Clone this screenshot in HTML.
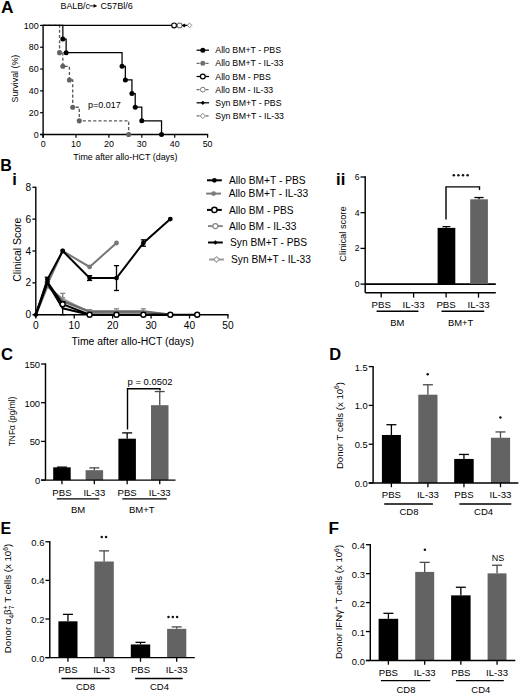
<!DOCTYPE html>
<html><head><meta charset="utf-8"><style>
html,body{margin:0;padding:0;background:#fff;overflow:hidden;width:520px;height:694px;}
svg{display:block;font-family:"Liberation Sans", sans-serif;}
</style></head><body>
<svg width="520" height="694" viewBox="0 0 520 694">
<rect width="520" height="694" fill="#fff"/>
<text transform="translate(1.10,13.40) scale(1.0,1)" font-size="17.3" font-weight="bold" fill="#000">A</text>
<text x="60.60" y="8.95" font-size="8.8" text-anchor="start" font-weight="normal" fill="#000">BALB/c</text>
<line x1="89.60" y1="5.90" x2="94.50" y2="5.90" stroke="#000" stroke-width="0.9" stroke-linecap="butt"/>
<polygon points="93.6,4.1 97.3,5.9 93.6,7.7" fill="#000"/>
<text x="100.50" y="9.06" font-size="9.1" text-anchor="start" font-weight="normal" fill="#000">C57Bl/6</text>
<line x1="40.10" y1="134.50" x2="43.10" y2="134.50" stroke="#000" stroke-width="1.2" stroke-linecap="butt"/>
<text x="38.60" y="137.69" font-size="8.9" text-anchor="end" font-weight="normal" fill="#000">0</text>
<line x1="40.10" y1="112.68" x2="43.10" y2="112.68" stroke="#000" stroke-width="1.2" stroke-linecap="butt"/>
<text x="38.60" y="115.87" font-size="8.9" text-anchor="end" font-weight="normal" fill="#000">20</text>
<line x1="40.10" y1="90.86" x2="43.10" y2="90.86" stroke="#000" stroke-width="1.2" stroke-linecap="butt"/>
<text x="38.60" y="94.05" font-size="8.9" text-anchor="end" font-weight="normal" fill="#000">40</text>
<line x1="40.10" y1="69.04" x2="43.10" y2="69.04" stroke="#000" stroke-width="1.2" stroke-linecap="butt"/>
<text x="38.60" y="72.23" font-size="8.9" text-anchor="end" font-weight="normal" fill="#000">60</text>
<line x1="40.10" y1="47.22" x2="43.10" y2="47.22" stroke="#000" stroke-width="1.2" stroke-linecap="butt"/>
<text x="38.60" y="50.41" font-size="8.9" text-anchor="end" font-weight="normal" fill="#000">80</text>
<line x1="40.10" y1="25.40" x2="43.10" y2="25.40" stroke="#000" stroke-width="1.2" stroke-linecap="butt"/>
<text x="38.60" y="28.59" font-size="8.9" text-anchor="end" font-weight="normal" fill="#000">100</text>
<line x1="43.10" y1="134.50" x2="43.10" y2="137.70" stroke="#000" stroke-width="1.2" stroke-linecap="butt"/>
<text x="43.10" y="147.19" font-size="8.9" text-anchor="middle" font-weight="normal" fill="#000">0</text>
<line x1="76.00" y1="134.50" x2="76.00" y2="137.70" stroke="#000" stroke-width="1.2" stroke-linecap="butt"/>
<text x="76.00" y="147.19" font-size="8.9" text-anchor="middle" font-weight="normal" fill="#000">10</text>
<line x1="108.90" y1="134.50" x2="108.90" y2="137.70" stroke="#000" stroke-width="1.2" stroke-linecap="butt"/>
<text x="108.90" y="147.19" font-size="8.9" text-anchor="middle" font-weight="normal" fill="#000">20</text>
<line x1="141.80" y1="134.50" x2="141.80" y2="137.70" stroke="#000" stroke-width="1.2" stroke-linecap="butt"/>
<text x="141.80" y="147.19" font-size="8.9" text-anchor="middle" font-weight="normal" fill="#000">30</text>
<line x1="174.70" y1="134.50" x2="174.70" y2="137.70" stroke="#000" stroke-width="1.2" stroke-linecap="butt"/>
<text x="174.70" y="147.19" font-size="8.9" text-anchor="middle" font-weight="normal" fill="#000">40</text>
<line x1="207.60" y1="134.50" x2="207.60" y2="137.70" stroke="#000" stroke-width="1.2" stroke-linecap="butt"/>
<text x="207.60" y="147.19" font-size="8.9" text-anchor="middle" font-weight="normal" fill="#000">50</text>
<text transform="translate(18.00,78.60) rotate(-90)" font-size="8.9" text-anchor="middle" font-weight="normal" fill="#000">Survival (%)</text>
<text x="125.40" y="159.89" font-size="8.9" text-anchor="middle" font-weight="normal" fill="#000">Time after allo-HCT (days)</text>
<polyline points="43.10,25.40 59.55,25.40 59.55,52.67 62.84,52.67 62.84,66.31 69.42,66.31 69.42,79.95 72.71,79.95 72.71,107.22 79.29,107.22 79.29,120.86 128.64,120.86 128.64,134.50" fill="none" stroke="#5a5a5a" stroke-width="1.35" stroke-dasharray="3.1,2.1" stroke-linejoin="miter"/>
<polyline points="43.10,25.40 62.84,25.40 62.84,39.04 66.13,39.04 66.13,52.67 122.06,52.67 122.06,66.31 125.35,66.31 125.35,79.95 131.93,79.95 131.93,93.59 135.22,93.59 135.22,107.22 141.80,107.22 141.80,120.86 161.54,120.86 161.54,134.50" fill="none" stroke="#000" stroke-width="1.25" stroke-linejoin="miter"/>
<line x1="43.10" y1="24.80" x2="43.10" y2="137.70" stroke="#000" stroke-width="1.4" stroke-linecap="butt"/>
<line x1="40.10" y1="134.50" x2="208.20" y2="134.50" stroke="#000" stroke-width="1.4" stroke-linecap="butt"/>
<circle cx="59.55" cy="52.67" r="2.55" fill="#626262" stroke="none" stroke-width="0"/>
<circle cx="62.84" cy="66.31" r="2.55" fill="#626262" stroke="none" stroke-width="0"/>
<circle cx="69.42" cy="79.95" r="2.55" fill="#626262" stroke="none" stroke-width="0"/>
<circle cx="72.71" cy="107.22" r="2.55" fill="#626262" stroke="none" stroke-width="0"/>
<circle cx="79.29" cy="120.86" r="2.55" fill="#626262" stroke="none" stroke-width="0"/>
<circle cx="128.64" cy="134.50" r="2.55" fill="#626262" stroke="none" stroke-width="0"/>
<circle cx="62.84" cy="39.04" r="2.5" fill="#000" stroke="none" stroke-width="0"/>
<circle cx="66.13" cy="52.67" r="2.5" fill="#000" stroke="none" stroke-width="0"/>
<circle cx="122.06" cy="66.31" r="2.5" fill="#000" stroke="none" stroke-width="0"/>
<circle cx="125.35" cy="79.95" r="2.5" fill="#000" stroke="none" stroke-width="0"/>
<circle cx="131.93" cy="93.59" r="2.5" fill="#000" stroke="none" stroke-width="0"/>
<circle cx="135.22" cy="107.22" r="2.5" fill="#000" stroke="none" stroke-width="0"/>
<circle cx="141.80" cy="120.86" r="2.5" fill="#000" stroke="none" stroke-width="0"/>
<circle cx="161.54" cy="134.50" r="2.5" fill="#000" stroke="none" stroke-width="0"/>
<line x1="43.10" y1="25.40" x2="171.50" y2="25.40" stroke="#000" stroke-width="1.25" stroke-linecap="butt"/>
<circle cx="174.10" cy="25.40" r="2.4" fill="#fff" stroke="#000" stroke-width="1.2"/>
<circle cx="179.60" cy="25.40" r="2.4" fill="#fff" stroke="#666" stroke-width="1.1"/>
<line x1="182.00" y1="25.40" x2="188.00" y2="25.40" stroke="#000" stroke-width="1.2" stroke-linecap="butt"/>
<polygon points="184.20,23.40 186.20,25.40 184.20,27.40 182.20,25.40" fill="#000" stroke="none" stroke-width="0"/>
<polygon points="189.50,23.05 191.85,25.40 189.50,27.75 187.15,25.40" fill="#fff" stroke="#777" stroke-width="0.9"/>
<text x="87.90" y="107.82" font-size="9" text-anchor="start" font-weight="normal" fill="#000">p=0.017</text>
<line x1="196.60" y1="50.20" x2="209.00" y2="50.20" stroke="#000" stroke-width="1.25" stroke-linecap="butt"/>
<circle cx="202.80" cy="50.20" r="2.5" fill="#000" stroke="none" stroke-width="0"/>
<text x="215.30" y="53.33" font-size="8.75" text-anchor="start" font-weight="normal" fill="#000">Allo BM+T - PBS</text>
<line x1="196.60" y1="63.35" x2="209.00" y2="63.35" stroke="#6e6e6e" stroke-width="1.25" stroke-dasharray="3,1.5" stroke-linecap="butt"/>
<circle cx="202.80" cy="63.35" r="2.5" fill="#707070" stroke="none" stroke-width="0"/>
<text x="215.30" y="66.48" font-size="8.75" text-anchor="start" font-weight="normal" fill="#000">Allo BM+T - IL-33</text>
<line x1="196.60" y1="76.50" x2="209.00" y2="76.50" stroke="#000" stroke-width="1.25" stroke-linecap="butt"/>
<circle cx="202.80" cy="76.50" r="2.4" fill="#fff" stroke="#000" stroke-width="1.25"/>
<text x="215.30" y="79.63" font-size="8.75" text-anchor="start" font-weight="normal" fill="#000">Allo BM - PBS</text>
<line x1="196.60" y1="89.65" x2="209.00" y2="89.65" stroke="#6e6e6e" stroke-width="1.25" stroke-dasharray="3,1.5" stroke-linecap="butt"/>
<circle cx="202.80" cy="89.65" r="2.4" fill="#fff" stroke="#777" stroke-width="1.0"/>
<text x="215.30" y="92.78" font-size="8.75" text-anchor="start" font-weight="normal" fill="#000">Allo BM - IL-33</text>
<line x1="196.60" y1="102.80" x2="209.00" y2="102.80" stroke="#000" stroke-width="1.25" stroke-linecap="butt"/>
<polygon points="202.80,100.70 204.90,102.80 202.80,104.90 200.70,102.80" fill="#000" stroke="none" stroke-width="0"/>
<text x="215.30" y="105.93" font-size="8.75" text-anchor="start" font-weight="normal" fill="#000">Syn BM+T - PBS</text>
<line x1="196.60" y1="115.95" x2="209.00" y2="115.95" stroke="#6e6e6e" stroke-width="1.25" stroke-dasharray="3,1.5" stroke-linecap="butt"/>
<polygon points="202.80,113.35 205.40,115.95 202.80,118.55 200.20,115.95" fill="#fff" stroke="#777" stroke-width="0.9"/>
<text x="215.30" y="119.08" font-size="8.75" text-anchor="start" font-weight="normal" fill="#000">Syn BM+T - IL-33</text>
<text transform="translate(0.20,171.40) scale(0.94,1)" font-size="17.1" font-weight="bold" fill="#000">B</text>
<text transform="translate(12.20,185.30) scale(1.0,1)" font-size="16.5" font-weight="bold" fill="#000">i</text>
<line x1="35.80" y1="186.66" x2="35.80" y2="314.70" stroke="#000" stroke-width="1.4" stroke-linecap="butt"/>
<line x1="35.80" y1="314.70" x2="228.55" y2="314.70" stroke="#000" stroke-width="1.4" stroke-linecap="butt"/>
<line x1="32.40" y1="314.70" x2="35.80" y2="314.70" stroke="#000" stroke-width="1.3" stroke-linecap="butt"/>
<text x="31.20" y="318.35" font-size="10.2" text-anchor="end" font-weight="normal" fill="#000">0</text>
<line x1="32.40" y1="282.84" x2="35.80" y2="282.84" stroke="#000" stroke-width="1.3" stroke-linecap="butt"/>
<text x="31.20" y="286.49" font-size="10.2" text-anchor="end" font-weight="normal" fill="#000">2</text>
<line x1="32.40" y1="250.98" x2="35.80" y2="250.98" stroke="#000" stroke-width="1.3" stroke-linecap="butt"/>
<text x="31.20" y="254.63" font-size="10.2" text-anchor="end" font-weight="normal" fill="#000">4</text>
<line x1="32.40" y1="219.12" x2="35.80" y2="219.12" stroke="#000" stroke-width="1.3" stroke-linecap="butt"/>
<text x="31.20" y="222.77" font-size="10.2" text-anchor="end" font-weight="normal" fill="#000">6</text>
<line x1="32.40" y1="187.26" x2="35.80" y2="187.26" stroke="#000" stroke-width="1.3" stroke-linecap="butt"/>
<text x="31.20" y="190.91" font-size="10.2" text-anchor="end" font-weight="normal" fill="#000">8</text>
<line x1="35.80" y1="314.70" x2="35.80" y2="318.50" stroke="#000" stroke-width="1.3" stroke-linecap="butt"/>
<text x="35.80" y="329.05" font-size="10.2" text-anchor="middle" font-weight="normal" fill="#000">0</text>
<line x1="74.23" y1="314.70" x2="74.23" y2="318.50" stroke="#000" stroke-width="1.3" stroke-linecap="butt"/>
<text x="74.23" y="329.05" font-size="10.2" text-anchor="middle" font-weight="normal" fill="#000">10</text>
<line x1="112.66" y1="314.70" x2="112.66" y2="318.50" stroke="#000" stroke-width="1.3" stroke-linecap="butt"/>
<text x="112.66" y="329.05" font-size="10.2" text-anchor="middle" font-weight="normal" fill="#000">20</text>
<line x1="151.09" y1="314.70" x2="151.09" y2="318.50" stroke="#000" stroke-width="1.3" stroke-linecap="butt"/>
<text x="151.09" y="329.05" font-size="10.2" text-anchor="middle" font-weight="normal" fill="#000">30</text>
<line x1="189.52" y1="314.70" x2="189.52" y2="318.50" stroke="#000" stroke-width="1.3" stroke-linecap="butt"/>
<text x="189.52" y="329.05" font-size="10.2" text-anchor="middle" font-weight="normal" fill="#000">40</text>
<line x1="227.95" y1="314.70" x2="227.95" y2="318.50" stroke="#000" stroke-width="1.3" stroke-linecap="butt"/>
<text x="227.95" y="329.05" font-size="10.2" text-anchor="middle" font-weight="normal" fill="#000">50</text>
<text transform="translate(20.60,249.70) rotate(-90)" font-size="10.5" text-anchor="middle" font-weight="normal" fill="#000">Clinical Score</text>
<text x="132.80" y="345.34" font-size="10.45" text-anchor="middle" font-weight="normal" fill="#000">Time after allo-HCT (days)</text>
<polyline points="35.80,314.70 47.33,286.82 62.70,298.77 89.60,312.31 116.50,311.99 143.40,311.99 170.31,314.70" fill="none" stroke="#999" stroke-width="2.0" stroke-linejoin="miter"/>
<polyline points="35.80,314.70 47.33,285.23 62.70,301.16 89.60,311.51 116.50,311.51 143.40,311.51 170.31,314.70" fill="none" stroke="#6a6a6a" stroke-width="2.4" stroke-linejoin="miter"/>
<polyline points="35.80,314.70 47.33,284.43 62.70,250.98 89.60,266.91 116.50,243.01" fill="none" stroke="#777" stroke-width="2.0" stroke-linejoin="miter"/>
<line x1="62.70" y1="297.81" x2="62.70" y2="293.35" stroke="#888" stroke-width="1.5" stroke-linecap="butt"/>
<line x1="60.10" y1="293.35" x2="65.30" y2="293.35" stroke="#888" stroke-width="1.3" stroke-linecap="butt"/>
<line x1="60.10" y1="297.81" x2="65.30" y2="297.81" stroke="#888" stroke-width="1.3" stroke-linecap="butt"/>
<line x1="116.50" y1="315.18" x2="116.50" y2="308.81" stroke="#888" stroke-width="1.5" stroke-linecap="butt"/>
<line x1="113.90" y1="308.81" x2="119.10" y2="308.81" stroke="#888" stroke-width="1.3" stroke-linecap="butt"/>
<line x1="113.90" y1="315.18" x2="119.10" y2="315.18" stroke="#888" stroke-width="1.3" stroke-linecap="butt"/>
<line x1="143.40" y1="315.18" x2="143.40" y2="308.81" stroke="#888" stroke-width="1.5" stroke-linecap="butt"/>
<line x1="140.80" y1="308.81" x2="146.00" y2="308.81" stroke="#888" stroke-width="1.3" stroke-linecap="butt"/>
<line x1="140.80" y1="315.18" x2="146.00" y2="315.18" stroke="#888" stroke-width="1.3" stroke-linecap="butt"/>
<line x1="89.60" y1="313.43" x2="89.60" y2="309.60" stroke="#888" stroke-width="1.5" stroke-linecap="butt"/>
<line x1="87.00" y1="309.60" x2="92.20" y2="309.60" stroke="#888" stroke-width="1.3" stroke-linecap="butt"/>
<line x1="87.00" y1="313.43" x2="92.20" y2="313.43" stroke="#888" stroke-width="1.3" stroke-linecap="butt"/>
<circle cx="47.33" cy="284.43" r="2.4" fill="#777" stroke="none" stroke-width="0"/>
<circle cx="62.70" cy="250.98" r="2.4" fill="#777" stroke="none" stroke-width="0"/>
<circle cx="89.60" cy="266.91" r="2.4" fill="#777" stroke="none" stroke-width="0"/>
<circle cx="116.50" cy="243.01" r="2.4" fill="#777" stroke="none" stroke-width="0"/>
<polyline points="35.80,314.70 47.33,282.84 62.70,308.33 89.60,314.70 116.50,314.70 143.40,314.70 170.31,314.70" fill="none" stroke="#000" stroke-width="2.0" stroke-linejoin="miter"/>
<polyline points="35.80,314.70 47.33,282.04 62.70,304.19 89.60,314.70 116.50,314.70 143.40,314.70 170.31,314.70 197.21,314.70" fill="none" stroke="#000" stroke-width="2.0" stroke-linejoin="miter"/>
<polyline points="35.80,314.70 47.33,279.65 62.70,250.98 89.60,278.06 116.50,278.06 143.40,243.01 170.31,219.12" fill="none" stroke="#000" stroke-width="2.0" stroke-linejoin="miter"/>
<line x1="47.33" y1="282.04" x2="47.33" y2="277.26" stroke="#000" stroke-width="1.3" stroke-linecap="butt"/>
<line x1="44.73" y1="277.26" x2="49.93" y2="277.26" stroke="#000" stroke-width="1.3" stroke-linecap="butt"/>
<line x1="44.73" y1="282.04" x2="49.93" y2="282.04" stroke="#000" stroke-width="1.3" stroke-linecap="butt"/>
<line x1="89.60" y1="280.45" x2="89.60" y2="275.67" stroke="#000" stroke-width="1.3" stroke-linecap="butt"/>
<line x1="87.00" y1="275.67" x2="92.20" y2="275.67" stroke="#000" stroke-width="1.3" stroke-linecap="butt"/>
<line x1="87.00" y1="280.45" x2="92.20" y2="280.45" stroke="#000" stroke-width="1.3" stroke-linecap="butt"/>
<line x1="116.50" y1="290.49" x2="116.50" y2="265.64" stroke="#000" stroke-width="1.3" stroke-linecap="butt"/>
<line x1="113.90" y1="265.64" x2="119.10" y2="265.64" stroke="#000" stroke-width="1.3" stroke-linecap="butt"/>
<line x1="113.90" y1="290.49" x2="119.10" y2="290.49" stroke="#000" stroke-width="1.3" stroke-linecap="butt"/>
<line x1="143.40" y1="246.20" x2="143.40" y2="239.83" stroke="#000" stroke-width="1.3" stroke-linecap="butt"/>
<line x1="140.80" y1="239.83" x2="146.00" y2="239.83" stroke="#000" stroke-width="1.3" stroke-linecap="butt"/>
<line x1="140.80" y1="246.20" x2="146.00" y2="246.20" stroke="#000" stroke-width="1.3" stroke-linecap="butt"/>
<line x1="62.70" y1="314.70" x2="62.70" y2="301.96" stroke="#000" stroke-width="1.3" stroke-linecap="butt"/>
<line x1="60.10" y1="301.96" x2="65.30" y2="301.96" stroke="#000" stroke-width="1.3" stroke-linecap="butt"/>
<line x1="60.10" y1="314.70" x2="65.30" y2="314.70" stroke="#000" stroke-width="1.3" stroke-linecap="butt"/>
<circle cx="47.33" cy="279.65" r="2.4" fill="#000" stroke="none" stroke-width="0"/>
<circle cx="62.70" cy="250.98" r="2.4" fill="#000" stroke="none" stroke-width="0"/>
<circle cx="89.60" cy="278.06" r="2.4" fill="#000" stroke="none" stroke-width="0"/>
<circle cx="116.50" cy="278.06" r="2.4" fill="#000" stroke="none" stroke-width="0"/>
<circle cx="143.40" cy="243.01" r="2.4" fill="#000" stroke="none" stroke-width="0"/>
<circle cx="170.31" cy="219.12" r="2.4" fill="#000" stroke="none" stroke-width="0"/>
<polygon points="35.80,311.70 38.80,314.70 35.80,317.70 32.80,314.70" fill="#000" stroke="none" stroke-width="0"/>
<circle cx="62.70" cy="304.19" r="2.5" fill="#fff" stroke="#000" stroke-width="1.4"/>
<circle cx="89.60" cy="314.70" r="2.5" fill="#fff" stroke="#000" stroke-width="1.4"/>
<circle cx="116.50" cy="314.70" r="2.5" fill="#fff" stroke="#000" stroke-width="1.4"/>
<circle cx="143.40" cy="314.70" r="2.5" fill="#fff" stroke="#000" stroke-width="1.4"/>
<circle cx="170.31" cy="314.70" r="2.5" fill="#fff" stroke="#000" stroke-width="1.4"/>
<circle cx="197.21" cy="314.70" r="2.5" fill="#fff" stroke="#000" stroke-width="1.4"/>
<line x1="207.00" y1="180.30" x2="221.80" y2="180.30" stroke="#000" stroke-width="2.0" stroke-linecap="butt"/>
<circle cx="214.40" cy="180.30" r="2.4" fill="#000" stroke="none" stroke-width="0"/>
<text x="229.00" y="183.95" font-size="10.2" text-anchor="start" font-weight="normal" fill="#000">Allo BM+T - PBS</text>
<line x1="206.20" y1="193.60" x2="221.00" y2="193.60" stroke="#7c7c7c" stroke-width="2.0" stroke-linecap="butt"/>
<circle cx="213.60" cy="193.60" r="2.4" fill="#7c7c7c" stroke="none" stroke-width="0"/>
<text x="228.80" y="197.25" font-size="10.2" text-anchor="start" font-weight="normal" fill="#000">Allo BM+T - IL-33</text>
<line x1="207.00" y1="209.90" x2="221.80" y2="209.90" stroke="#000" stroke-width="2.0" stroke-linecap="butt"/>
<circle cx="214.40" cy="209.90" r="2.6" fill="#fff" stroke="#000" stroke-width="1.4"/>
<text x="229.00" y="213.55" font-size="10.2" text-anchor="start" font-weight="normal" fill="#000">Allo BM - PBS</text>
<line x1="208.00" y1="226.10" x2="222.80" y2="226.10" stroke="#888" stroke-width="2.0" stroke-linecap="butt"/>
<circle cx="215.40" cy="226.10" r="2.5" fill="#fff" stroke="#888" stroke-width="1.2"/>
<text x="229.00" y="229.75" font-size="10.2" text-anchor="start" font-weight="normal" fill="#000">Allo BM - IL-33</text>
<line x1="208.00" y1="242.50" x2="222.80" y2="242.50" stroke="#000" stroke-width="2.0" stroke-linecap="butt"/>
<polygon points="215.40,240.20 217.70,242.50 215.40,244.80 213.10,242.50" fill="#000" stroke="none" stroke-width="0"/>
<text x="230.00" y="246.15" font-size="10.2" text-anchor="start" font-weight="normal" fill="#000">Syn BM+T - PBS</text>
<line x1="209.10" y1="259.50" x2="223.90" y2="259.50" stroke="#999" stroke-width="2.0" stroke-linecap="butt"/>
<polygon points="216.50,256.70 219.30,259.50 216.50,262.30 213.70,259.50" fill="#fff" stroke="#999" stroke-width="1.1"/>
<text x="231.00" y="263.15" font-size="10.2" text-anchor="start" font-weight="normal" fill="#000">Syn BM+T - IL-33</text>
<text transform="translate(336.10,185.40) scale(1.0,1)" font-size="16.6" font-weight="bold" fill="#000">ii</text>
<line x1="365.20" y1="176.30" x2="365.20" y2="292.80" stroke="#000" stroke-width="1.45" stroke-linecap="butt"/>
<line x1="360.50" y1="284.10" x2="365.20" y2="284.10" stroke="#000" stroke-width="1.3" stroke-linecap="butt"/>
<text x="359.60" y="287.18" font-size="8.6" text-anchor="end" font-weight="normal" fill="#000">0</text>
<line x1="360.50" y1="248.40" x2="365.20" y2="248.40" stroke="#000" stroke-width="1.3" stroke-linecap="butt"/>
<text x="359.60" y="251.48" font-size="8.6" text-anchor="end" font-weight="normal" fill="#000">2</text>
<line x1="360.50" y1="212.70" x2="365.20" y2="212.70" stroke="#000" stroke-width="1.3" stroke-linecap="butt"/>
<text x="359.60" y="215.78" font-size="8.6" text-anchor="end" font-weight="normal" fill="#000">4</text>
<line x1="360.50" y1="177.00" x2="365.20" y2="177.00" stroke="#000" stroke-width="1.3" stroke-linecap="butt"/>
<text x="359.60" y="180.08" font-size="8.6" text-anchor="end" font-weight="normal" fill="#000">6</text>
<line x1="365.20" y1="284.10" x2="495.80" y2="284.10" stroke="#000" stroke-width="1.6" stroke-linecap="butt"/>
<line x1="365.20" y1="292.80" x2="495.80" y2="292.80" stroke="#000" stroke-width="1.45" stroke-linecap="butt"/>
<rect x="437.60" y="227.87" width="17.70" height="56.23" fill="#000"/>
<rect x="470.20" y="199.31" width="17.70" height="84.79" fill="#636363"/>
<line x1="446.40" y1="227.87" x2="446.40" y2="226.62" stroke="#000" stroke-width="1.2" stroke-linecap="butt"/>
<line x1="442.50" y1="226.62" x2="450.30" y2="226.62" stroke="#000" stroke-width="1.2" stroke-linecap="butt"/>
<line x1="479.00" y1="199.31" x2="479.00" y2="197.53" stroke="#000" stroke-width="1.3" stroke-linecap="butt"/>
<line x1="474.40" y1="197.53" x2="483.60" y2="197.53" stroke="#000" stroke-width="1.3" stroke-linecap="butt"/>
<polyline points="446.00,219.40 446.00,186.90 479.50,186.90 479.50,190.00" fill="none" stroke="#000" stroke-width="1.4" stroke-linejoin="miter"/>
<circle cx="453.80" cy="175.20" r="1.25" fill="#111" stroke="none" stroke-width="0"/>
<circle cx="458.40" cy="175.20" r="1.25" fill="#111" stroke="none" stroke-width="0"/>
<circle cx="463.00" cy="175.20" r="1.25" fill="#111" stroke="none" stroke-width="0"/>
<circle cx="467.60" cy="175.20" r="1.25" fill="#111" stroke="none" stroke-width="0"/>
<line x1="381.20" y1="292.80" x2="381.20" y2="297.60" stroke="#000" stroke-width="1.3" stroke-linecap="butt"/>
<text x="381.20" y="308.47" font-size="9.7" text-anchor="middle" font-weight="normal" fill="#000">PBS</text>
<line x1="413.60" y1="292.80" x2="413.60" y2="297.60" stroke="#000" stroke-width="1.3" stroke-linecap="butt"/>
<text x="413.60" y="308.47" font-size="9.7" text-anchor="middle" font-weight="normal" fill="#000">IL-33</text>
<line x1="446.10" y1="292.80" x2="446.10" y2="297.60" stroke="#000" stroke-width="1.3" stroke-linecap="butt"/>
<text x="446.10" y="308.47" font-size="9.7" text-anchor="middle" font-weight="normal" fill="#000">PBS</text>
<line x1="478.50" y1="292.80" x2="478.50" y2="297.60" stroke="#000" stroke-width="1.3" stroke-linecap="butt"/>
<text x="478.50" y="308.47" font-size="9.7" text-anchor="middle" font-weight="normal" fill="#000">IL-33</text>
<line x1="376.60" y1="311.20" x2="418.40" y2="311.20" stroke="#000" stroke-width="1.4" stroke-linecap="butt"/>
<line x1="441.50" y1="311.20" x2="484.20" y2="311.20" stroke="#000" stroke-width="1.4" stroke-linecap="butt"/>
<text x="397.20" y="326.17" font-size="9.4" text-anchor="middle" font-weight="normal" fill="#000">BM</text>
<text x="460.60" y="326.17" font-size="9.4" text-anchor="middle" font-weight="normal" fill="#000">BM+T</text>
<text transform="translate(345.80,234.00) rotate(-90)" font-size="9.3" text-anchor="middle" font-weight="normal" fill="#000">Clinical score</text>
<text transform="translate(1.10,359.80) scale(0.955,1)" font-size="17.4" font-weight="bold" fill="#000">C</text>
<line x1="41.10" y1="480.10" x2="45.50" y2="480.10" stroke="#000" stroke-width="1.3" stroke-linecap="butt"/>
<text x="40.10" y="484.17" font-size="9.4" text-anchor="end" font-weight="normal" fill="#000">0</text>
<line x1="41.10" y1="441.40" x2="45.50" y2="441.40" stroke="#000" stroke-width="1.3" stroke-linecap="butt"/>
<text x="40.10" y="445.47" font-size="9.4" text-anchor="end" font-weight="normal" fill="#000">50</text>
<line x1="41.10" y1="402.70" x2="45.50" y2="402.70" stroke="#000" stroke-width="1.3" stroke-linecap="butt"/>
<text x="40.10" y="406.77" font-size="9.4" text-anchor="end" font-weight="normal" fill="#000">100</text>
<line x1="41.10" y1="364.00" x2="45.50" y2="364.00" stroke="#000" stroke-width="1.3" stroke-linecap="butt"/>
<text x="40.10" y="368.07" font-size="9.4" text-anchor="end" font-weight="normal" fill="#000">150</text>
<rect x="53.20" y="467.33" width="17.50" height="12.77" fill="#000"/>
<line x1="61.95" y1="467.33" x2="61.95" y2="467.10" stroke="#000" stroke-width="1.3" stroke-linecap="butt"/>
<line x1="56.95" y1="467.10" x2="66.95" y2="467.10" stroke="#000" stroke-width="1.3" stroke-linecap="butt"/>
<line x1="61.95" y1="480.10" x2="61.95" y2="484.30" stroke="#000" stroke-width="1.3" stroke-linecap="butt"/>
<text x="61.95" y="496.34" font-size="9.6" text-anchor="middle" font-weight="normal" fill="#000">PBS</text>
<rect x="85.60" y="470.19" width="17.50" height="9.91" fill="#636363"/>
<line x1="94.35" y1="470.19" x2="94.35" y2="467.87" stroke="#4a4a4a" stroke-width="1.3" stroke-linecap="butt"/>
<line x1="89.35" y1="467.87" x2="99.35" y2="467.87" stroke="#4a4a4a" stroke-width="1.3" stroke-linecap="butt"/>
<line x1="94.35" y1="480.10" x2="94.35" y2="484.30" stroke="#000" stroke-width="1.3" stroke-linecap="butt"/>
<text x="94.35" y="496.34" font-size="9.6" text-anchor="middle" font-weight="normal" fill="#000">IL-33</text>
<rect x="118.40" y="438.69" width="17.50" height="41.41" fill="#000"/>
<line x1="127.15" y1="438.69" x2="127.15" y2="432.89" stroke="#000" stroke-width="1.3" stroke-linecap="butt"/>
<line x1="122.15" y1="432.89" x2="132.15" y2="432.89" stroke="#000" stroke-width="1.3" stroke-linecap="butt"/>
<line x1="127.15" y1="480.10" x2="127.15" y2="484.30" stroke="#000" stroke-width="1.3" stroke-linecap="butt"/>
<text x="127.15" y="496.34" font-size="9.6" text-anchor="middle" font-weight="normal" fill="#000">PBS</text>
<rect x="151.00" y="405.18" width="17.50" height="74.92" fill="#636363"/>
<line x1="159.75" y1="405.18" x2="159.75" y2="391.55" stroke="#4a4a4a" stroke-width="1.3" stroke-linecap="butt"/>
<line x1="154.75" y1="391.55" x2="164.75" y2="391.55" stroke="#4a4a4a" stroke-width="1.3" stroke-linecap="butt"/>
<line x1="159.75" y1="480.10" x2="159.75" y2="484.30" stroke="#000" stroke-width="1.3" stroke-linecap="butt"/>
<text x="159.75" y="496.34" font-size="9.6" text-anchor="middle" font-weight="normal" fill="#000">IL-33</text>
<line x1="45.50" y1="363.30" x2="45.50" y2="480.10" stroke="#000" stroke-width="1.45" stroke-linecap="butt"/>
<line x1="41.10" y1="480.10" x2="175.50" y2="480.10" stroke="#000" stroke-width="1.45" stroke-linecap="butt"/>
<line x1="56.80" y1="498.80" x2="99.20" y2="498.80" stroke="#000" stroke-width="1.35" stroke-linecap="butt"/>
<text x="78.00" y="513.00" font-size="9.5" text-anchor="middle" font-weight="normal" fill="#000">BM</text>
<line x1="122.30" y1="498.80" x2="166.80" y2="498.80" stroke="#000" stroke-width="1.35" stroke-linecap="butt"/>
<text x="141.70" y="513.00" font-size="9.5" text-anchor="middle" font-weight="normal" fill="#000">BM+T</text>
<text transform="translate(15.40,421.50) rotate(-90)" font-size="8.4" text-anchor="middle" font-weight="normal" fill="#000">TNFα (pg/ml)</text>
<polyline points="127.50,429.60 127.50,388.70 160.00,388.70 160.00,390.50" fill="none" stroke="#000" stroke-width="1.4" stroke-linejoin="miter"/>
<text x="150.00" y="384.78" font-size="9.45" text-anchor="middle" font-weight="normal" fill="#000">p = 0.0502</text>
<text transform="translate(329.20,359.70) scale(0.945,1)" font-size="17.4" font-weight="bold" fill="#000">D</text>
<line x1="368.70" y1="483.00" x2="373.10" y2="483.00" stroke="#000" stroke-width="1.3" stroke-linecap="butt"/>
<text x="367.70" y="487.07" font-size="9.4" text-anchor="end" font-weight="normal" fill="#000">0.0</text>
<line x1="368.70" y1="444.20" x2="373.10" y2="444.20" stroke="#000" stroke-width="1.3" stroke-linecap="butt"/>
<text x="367.70" y="448.27" font-size="9.4" text-anchor="end" font-weight="normal" fill="#000">0.5</text>
<line x1="368.70" y1="405.40" x2="373.10" y2="405.40" stroke="#000" stroke-width="1.3" stroke-linecap="butt"/>
<text x="367.70" y="409.47" font-size="9.4" text-anchor="end" font-weight="normal" fill="#000">1.0</text>
<line x1="368.70" y1="366.60" x2="373.10" y2="366.60" stroke="#000" stroke-width="1.3" stroke-linecap="butt"/>
<text x="367.70" y="370.67" font-size="9.4" text-anchor="end" font-weight="normal" fill="#000">1.5</text>
<rect x="381.90" y="434.97" width="19.00" height="48.03" fill="#000"/>
<line x1="391.40" y1="434.97" x2="391.40" y2="424.72" stroke="#000" stroke-width="1.3" stroke-linecap="butt"/>
<line x1="386.40" y1="424.72" x2="396.40" y2="424.72" stroke="#000" stroke-width="1.3" stroke-linecap="butt"/>
<line x1="391.40" y1="483.00" x2="391.40" y2="487.20" stroke="#000" stroke-width="1.3" stroke-linecap="butt"/>
<text x="391.40" y="498.24" font-size="9.6" text-anchor="middle" font-weight="normal" fill="#000">PBS</text>
<rect x="418.30" y="394.69" width="19.20" height="88.31" fill="#636363"/>
<line x1="427.90" y1="394.69" x2="427.90" y2="384.76" stroke="#4a4a4a" stroke-width="1.3" stroke-linecap="butt"/>
<line x1="422.90" y1="384.76" x2="432.90" y2="384.76" stroke="#4a4a4a" stroke-width="1.3" stroke-linecap="butt"/>
<line x1="427.90" y1="483.00" x2="427.90" y2="487.20" stroke="#000" stroke-width="1.3" stroke-linecap="butt"/>
<text x="427.90" y="498.24" font-size="9.6" text-anchor="middle" font-weight="normal" fill="#000">IL-33</text>
<circle cx="427.70" cy="374.20" r="1.25" fill="#111" stroke="none" stroke-width="0"/>
<rect x="454.20" y="458.94" width="19.50" height="24.06" fill="#000"/>
<line x1="463.95" y1="458.94" x2="463.95" y2="454.44" stroke="#000" stroke-width="1.3" stroke-linecap="butt"/>
<line x1="458.95" y1="454.44" x2="468.95" y2="454.44" stroke="#000" stroke-width="1.3" stroke-linecap="butt"/>
<line x1="463.95" y1="483.00" x2="463.95" y2="487.20" stroke="#000" stroke-width="1.3" stroke-linecap="butt"/>
<text x="463.95" y="498.24" font-size="9.6" text-anchor="middle" font-weight="normal" fill="#000">PBS</text>
<rect x="490.90" y="437.76" width="19.20" height="45.24" fill="#636363"/>
<line x1="500.50" y1="437.76" x2="500.50" y2="431.94" stroke="#4a4a4a" stroke-width="1.3" stroke-linecap="butt"/>
<line x1="495.50" y1="431.94" x2="505.50" y2="431.94" stroke="#4a4a4a" stroke-width="1.3" stroke-linecap="butt"/>
<line x1="500.50" y1="483.00" x2="500.50" y2="487.20" stroke="#000" stroke-width="1.3" stroke-linecap="butt"/>
<text x="500.50" y="498.24" font-size="9.6" text-anchor="middle" font-weight="normal" fill="#000">IL-33</text>
<circle cx="500.40" cy="417.50" r="1.25" fill="#111" stroke="none" stroke-width="0"/>
<line x1="373.10" y1="365.90" x2="373.10" y2="483.00" stroke="#000" stroke-width="1.45" stroke-linecap="butt"/>
<line x1="368.70" y1="483.00" x2="518.30" y2="483.00" stroke="#000" stroke-width="1.45" stroke-linecap="butt"/>
<line x1="384.20" y1="504.00" x2="432.90" y2="504.00" stroke="#000" stroke-width="1.35" stroke-linecap="butt"/>
<text x="409.00" y="515.20" font-size="9.5" text-anchor="middle" font-weight="normal" fill="#000">CD8</text>
<line x1="459.40" y1="504.00" x2="511.30" y2="504.00" stroke="#000" stroke-width="1.35" stroke-linecap="butt"/>
<text x="483.60" y="515.20" font-size="9.5" text-anchor="middle" font-weight="normal" fill="#000">CD4</text>
<text transform="translate(342.60,425.50) rotate(-90)" font-size="9.6" text-anchor="middle" font-weight="normal" fill="#000">Donor T cells (x 10<tspan dy="-3.6" font-size="6.8">6</tspan><tspan dy="3.6">)</tspan></text>
<text transform="translate(0.40,533.90) scale(0.92,1)" font-size="17.4" font-weight="bold" fill="#000">E</text>
<line x1="45.40" y1="657.60" x2="49.80" y2="657.60" stroke="#000" stroke-width="1.3" stroke-linecap="butt"/>
<text x="44.40" y="661.67" font-size="9.4" text-anchor="end" font-weight="normal" fill="#000">0.0</text>
<line x1="45.40" y1="619.00" x2="49.80" y2="619.00" stroke="#000" stroke-width="1.3" stroke-linecap="butt"/>
<text x="44.40" y="623.07" font-size="9.4" text-anchor="end" font-weight="normal" fill="#000">0.2</text>
<line x1="45.40" y1="580.40" x2="49.80" y2="580.40" stroke="#000" stroke-width="1.3" stroke-linecap="butt"/>
<text x="44.40" y="584.47" font-size="9.4" text-anchor="end" font-weight="normal" fill="#000">0.4</text>
<line x1="45.40" y1="541.80" x2="49.80" y2="541.80" stroke="#000" stroke-width="1.3" stroke-linecap="butt"/>
<text x="44.40" y="545.87" font-size="9.4" text-anchor="end" font-weight="normal" fill="#000">0.6</text>
<rect x="58.40" y="621.32" width="19.10" height="36.28" fill="#000"/>
<line x1="67.95" y1="621.32" x2="67.95" y2="614.37" stroke="#000" stroke-width="1.3" stroke-linecap="butt"/>
<line x1="62.95" y1="614.37" x2="72.95" y2="614.37" stroke="#000" stroke-width="1.3" stroke-linecap="butt"/>
<line x1="67.95" y1="657.60" x2="67.95" y2="661.80" stroke="#000" stroke-width="1.3" stroke-linecap="butt"/>
<text x="67.95" y="673.14" font-size="9.6" text-anchor="middle" font-weight="normal" fill="#000">PBS</text>
<rect x="94.40" y="561.49" width="19.40" height="96.11" fill="#636363"/>
<line x1="104.10" y1="561.49" x2="104.10" y2="550.87" stroke="#4a4a4a" stroke-width="1.3" stroke-linecap="butt"/>
<line x1="99.10" y1="550.87" x2="109.10" y2="550.87" stroke="#4a4a4a" stroke-width="1.3" stroke-linecap="butt"/>
<line x1="104.10" y1="657.60" x2="104.10" y2="661.80" stroke="#000" stroke-width="1.3" stroke-linecap="butt"/>
<text x="104.10" y="673.14" font-size="9.6" text-anchor="middle" font-weight="normal" fill="#000">IL-33</text>
<circle cx="101.75" cy="537.10" r="1.25" fill="#111" stroke="none" stroke-width="0"/>
<circle cx="106.05" cy="537.10" r="1.25" fill="#111" stroke="none" stroke-width="0"/>
<rect x="130.80" y="644.48" width="19.40" height="13.12" fill="#000"/>
<line x1="140.50" y1="644.48" x2="140.50" y2="642.35" stroke="#000" stroke-width="1.3" stroke-linecap="butt"/>
<line x1="135.50" y1="642.35" x2="145.50" y2="642.35" stroke="#000" stroke-width="1.3" stroke-linecap="butt"/>
<line x1="140.50" y1="657.60" x2="140.50" y2="661.80" stroke="#000" stroke-width="1.3" stroke-linecap="butt"/>
<text x="140.50" y="673.14" font-size="9.6" text-anchor="middle" font-weight="normal" fill="#000">PBS</text>
<rect x="167.10" y="628.84" width="19.20" height="28.76" fill="#636363"/>
<line x1="176.70" y1="628.84" x2="176.70" y2="626.91" stroke="#4a4a4a" stroke-width="1.3" stroke-linecap="butt"/>
<line x1="171.70" y1="626.91" x2="181.70" y2="626.91" stroke="#4a4a4a" stroke-width="1.3" stroke-linecap="butt"/>
<line x1="176.70" y1="657.60" x2="176.70" y2="661.80" stroke="#000" stroke-width="1.3" stroke-linecap="butt"/>
<text x="176.70" y="673.14" font-size="9.6" text-anchor="middle" font-weight="normal" fill="#000">IL-33</text>
<circle cx="168.50" cy="616.90" r="1.25" fill="#111" stroke="none" stroke-width="0"/>
<circle cx="172.80" cy="616.90" r="1.25" fill="#111" stroke="none" stroke-width="0"/>
<circle cx="177.10" cy="616.90" r="1.25" fill="#111" stroke="none" stroke-width="0"/>
<line x1="49.80" y1="541.10" x2="49.80" y2="657.60" stroke="#000" stroke-width="1.45" stroke-linecap="butt"/>
<line x1="45.40" y1="657.60" x2="194.80" y2="657.60" stroke="#000" stroke-width="1.45" stroke-linecap="butt"/>
<line x1="61.40" y1="678.50" x2="109.80" y2="678.50" stroke="#000" stroke-width="1.35" stroke-linecap="butt"/>
<text x="85.50" y="689.60" font-size="9.5" text-anchor="middle" font-weight="normal" fill="#000">CD8</text>
<line x1="135.10" y1="678.50" x2="182.70" y2="678.50" stroke="#000" stroke-width="1.35" stroke-linecap="butt"/>
<text x="159.50" y="689.60" font-size="9.5" text-anchor="middle" font-weight="normal" fill="#000">CD4</text>
<text transform="translate(11.40,598.50) rotate(-90)" font-size="9.7" text-anchor="middle" font-weight="normal" fill="#000">Donor α<tspan dy="2.2" font-size="6.6">4</tspan><tspan dy="-2.2">β</tspan><tspan dy="2.4" font-size="6.6">7</tspan><tspan dx="-3.7" dy="-6.2" font-size="6.6">+</tspan><tspan dy="3.8"> T cells (x 10</tspan><tspan dy="-3.6" font-size="6.8">6</tspan><tspan dy="3.6">)</tspan></text>
<text transform="translate(328.40,533.90) scale(0.99,1)" font-size="17.4" font-weight="bold" fill="#000">F</text>
<line x1="365.90" y1="660.50" x2="370.30" y2="660.50" stroke="#000" stroke-width="1.3" stroke-linecap="butt"/>
<text x="364.90" y="664.57" font-size="9.4" text-anchor="end" font-weight="normal" fill="#000">0.0</text>
<line x1="365.90" y1="631.55" x2="370.30" y2="631.55" stroke="#000" stroke-width="1.3" stroke-linecap="butt"/>
<text x="364.90" y="635.62" font-size="9.4" text-anchor="end" font-weight="normal" fill="#000">0.1</text>
<line x1="365.90" y1="602.60" x2="370.30" y2="602.60" stroke="#000" stroke-width="1.3" stroke-linecap="butt"/>
<text x="364.90" y="606.67" font-size="9.4" text-anchor="end" font-weight="normal" fill="#000">0.2</text>
<line x1="365.90" y1="573.65" x2="370.30" y2="573.65" stroke="#000" stroke-width="1.3" stroke-linecap="butt"/>
<text x="364.90" y="577.72" font-size="9.4" text-anchor="end" font-weight="normal" fill="#000">0.3</text>
<line x1="365.90" y1="544.70" x2="370.30" y2="544.70" stroke="#000" stroke-width="1.3" stroke-linecap="butt"/>
<text x="364.90" y="548.77" font-size="9.4" text-anchor="end" font-weight="normal" fill="#000">0.4</text>
<rect x="378.60" y="618.81" width="19.60" height="41.69" fill="#000"/>
<line x1="388.40" y1="618.81" x2="388.40" y2="613.31" stroke="#000" stroke-width="1.3" stroke-linecap="butt"/>
<line x1="383.40" y1="613.31" x2="393.40" y2="613.31" stroke="#000" stroke-width="1.3" stroke-linecap="butt"/>
<line x1="388.40" y1="660.50" x2="388.40" y2="664.70" stroke="#000" stroke-width="1.3" stroke-linecap="butt"/>
<text x="388.40" y="676.34" font-size="9.6" text-anchor="middle" font-weight="normal" fill="#000">PBS</text>
<rect x="415.20" y="571.91" width="19.00" height="88.59" fill="#636363"/>
<line x1="424.70" y1="571.91" x2="424.70" y2="562.36" stroke="#4a4a4a" stroke-width="1.3" stroke-linecap="butt"/>
<line x1="419.70" y1="562.36" x2="429.70" y2="562.36" stroke="#4a4a4a" stroke-width="1.3" stroke-linecap="butt"/>
<line x1="424.70" y1="660.50" x2="424.70" y2="664.70" stroke="#000" stroke-width="1.3" stroke-linecap="butt"/>
<text x="424.70" y="676.34" font-size="9.6" text-anchor="middle" font-weight="normal" fill="#000">IL-33</text>
<circle cx="424.90" cy="549.80" r="1.25" fill="#111" stroke="none" stroke-width="0"/>
<rect x="451.10" y="595.36" width="19.50" height="65.14" fill="#000"/>
<line x1="460.85" y1="595.36" x2="460.85" y2="587.26" stroke="#000" stroke-width="1.3" stroke-linecap="butt"/>
<line x1="455.85" y1="587.26" x2="465.85" y2="587.26" stroke="#000" stroke-width="1.3" stroke-linecap="butt"/>
<line x1="460.85" y1="660.50" x2="460.85" y2="664.70" stroke="#000" stroke-width="1.3" stroke-linecap="butt"/>
<text x="460.85" y="676.34" font-size="9.6" text-anchor="middle" font-weight="normal" fill="#000">PBS</text>
<rect x="487.60" y="573.36" width="18.90" height="87.14" fill="#636363"/>
<line x1="497.05" y1="573.36" x2="497.05" y2="565.25" stroke="#4a4a4a" stroke-width="1.3" stroke-linecap="butt"/>
<line x1="492.05" y1="565.25" x2="502.05" y2="565.25" stroke="#4a4a4a" stroke-width="1.3" stroke-linecap="butt"/>
<line x1="497.05" y1="660.50" x2="497.05" y2="664.70" stroke="#000" stroke-width="1.3" stroke-linecap="butt"/>
<text x="497.05" y="676.34" font-size="9.6" text-anchor="middle" font-weight="normal" fill="#000">IL-33</text>
<text x="498.00" y="560.52" font-size="9.0" text-anchor="middle" font-weight="normal" fill="#000">NS</text>
<line x1="370.30" y1="544.00" x2="370.30" y2="660.50" stroke="#000" stroke-width="1.45" stroke-linecap="butt"/>
<line x1="365.90" y1="660.50" x2="515.30" y2="660.50" stroke="#000" stroke-width="1.45" stroke-linecap="butt"/>
<line x1="380.90" y1="680.60" x2="430.30" y2="680.60" stroke="#000" stroke-width="1.35" stroke-linecap="butt"/>
<text x="406.00" y="693.00" font-size="9.5" text-anchor="middle" font-weight="normal" fill="#000">CD8</text>
<line x1="455.90" y1="680.60" x2="503.80" y2="680.60" stroke="#000" stroke-width="1.35" stroke-linecap="butt"/>
<text x="480.80" y="693.00" font-size="9.5" text-anchor="middle" font-weight="normal" fill="#000">CD4</text>
<text transform="translate(342.40,602.00) rotate(-90)" font-size="9.6" text-anchor="middle" font-weight="normal" fill="#000">Donor IFNγ<tspan dy="-3.6" font-size="6.8">+</tspan><tspan dy="3.6"> T cells (x 10</tspan><tspan dy="-3.6" font-size="6.8">6</tspan><tspan dy="3.6">)</tspan></text>
</svg></body></html>
